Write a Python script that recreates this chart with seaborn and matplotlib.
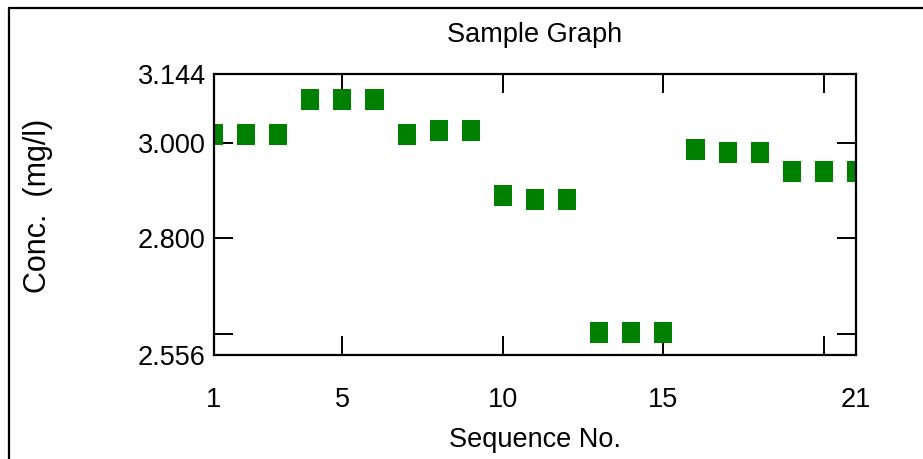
import numpy as np
import pandas as pd
import matplotlib
matplotlib.use("Agg")
import matplotlib.pyplot as plt
from matplotlib.path import Path
from matplotlib.markers import MarkerStyle
from matplotlib.lines import Line2D
import seaborn as sns

# valores
sequencia = list(range(1, 22))
concentracao = [3.018, 3.018, 3.018, 3.090, 3.090, 3.090, 3.018, 3.025, 3.025,
                2.889, 2.882, 2.882, 2.604, 2.604, 2.604, 2.985, 2.979, 2.979,
                2.941, 2.941, 2.941]

x_ticks = [1, 5, 10, 15, 20, 21]
x_labels = ["1", "5", "10", "15", "", "21"]
y_ticks = [2.556, 2.6, 2.8, 3.0, 3.144]
y_labels = ["2.556", "", "2.800", "3.000", "3.144"]

df = pd.DataFrame({"Sequence No.": sequencia, "Conc.": concentracao})

sns.set_style("white")
plt.rcParams["font.family"] = ["Liberation Sans", "DejaVu Sans"]
plt.rcParams["text.color"] = "black"
plt.rcParams["axes.labelcolor"] = "black"

fig = plt.figure(figsize=(9.23, 4.59), dpi=100)
ax = fig.add_axes([214 / 923, 104 / 459, 642 / 923, 281 / 459])

# marcador retangular (um pouco mais alto que largo)
ret = Path([(-0.43, -0.5), (0.43, -0.5), (0.43, 0.5), (-0.43, 0.5), (-0.43, -0.5)],
           [Path.MOVETO, Path.LINETO, Path.LINETO, Path.LINETO, Path.CLOSEPOLY])
sns.scatterplot(data=df, x="Sequence No.", y="Conc.", ax=ax,
                marker=MarkerStyle(ret), s=229, color="#008000",
                edgecolor="none", linewidth=0)

ax.set_xlim(1, 21)
ax.set_ylim(2.556, 3.144)
ax.set_xticks(x_ticks)
ax.set_xticklabels(x_labels)
ax.set_yticks(y_ticks)
ax.set_yticklabels(y_labels)

ax.tick_params(direction="in", length=14, width=1.4, colors="black",
               top=True, right=True, bottom=True, left=True, labelsize=19.5)
ax.tick_params(axis="x", pad=23)
ax.tick_params(axis="y", pad=6)

for s in ax.spines.values():
    s.set_visible(True)
    s.set_color("black")
    s.set_linewidth(1.6)

ax.set_title("Sample Graph", fontsize=19.5, pad=23, color="black")
ax.set_xlabel("Sequence No.", fontsize=19.5, color="black")
ax.xaxis.set_label_coords(0.5, -0.256)
ax.set_ylabel("Conc.  (mg/l)", fontsize=22, color="black")
ax.yaxis.set_label_coords(-0.251, 0.53)

# moldura da figura (so topo e lado esquerdo visiveis)
x0 = 9 / 923
y0 = 1 - 8 / 459
fig.add_artist(Line2D([x0, 1], [y0, y0], transform=fig.transFigure, color="black", lw=1.6))
fig.add_artist(Line2D([x0, x0], [0, y0], transform=fig.transFigure, color="black", lw=1.6))

fig.savefig("out.png", dpi=100)
